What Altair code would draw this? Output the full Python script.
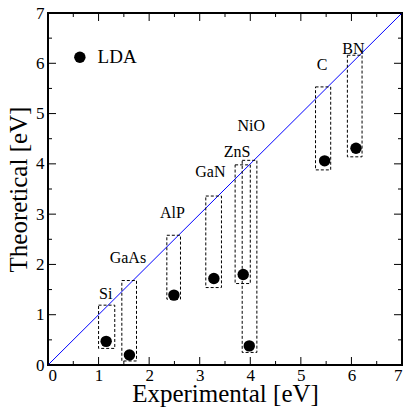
import altair as alt
import pandas as pd

materials = ["Si", "GaAs", "AlP", "GaN", "ZnS", "NiO", "C", "BN"]
exp_gap = [1.15, 1.61, 2.49, 3.28, 3.86, 3.98, 5.47, 6.09]
lda_gap = [0.47, 0.20, 1.39, 1.72, 1.80, 0.38, 4.06, 4.31]
box_x1 = [1.00, 1.46, 2.35, 3.12, 3.70, 3.84, 5.29, 5.92]
box_x2 = [1.32, 1.75, 2.62, 3.43, 4.00, 4.13, 5.59, 6.21]
box_y1 = [0.33, 0.08, 1.31, 1.54, 1.62, 0.25, 3.88, 4.14]
box_y2 = [1.19, 1.68, 2.58, 3.36, 3.98, 4.07, 5.53, 6.16]
label_x = [1.14, 1.58, 2.46, 3.21, 3.74, 4.02, 5.42, 6.04]
label_y = [1.41, 2.12, 3.02, 3.84, 4.24, 4.76, 5.96, 6.29]

major_ticks = [0, 1, 2, 3, 4, 5, 6, 7]
minor_ticks = [0.5, 1.5, 2.5, 3.5, 4.5, 5.5, 6.5]

legend_x = [0.63]
legend_y = [6.12]
legend_text = ["LDA"]
legend_text_x = [0.98]

W, H = 354, 352
FONT = "Liberation Serif"

xs = alt.Scale(domain=[0, 7], nice=False, zero=False)
ys = alt.Scale(domain=[0, 7], nice=False, zero=False)

df = pd.DataFrame({"m": materials, "ex": exp_gap, "lda": lda_gap,
                   "x1": box_x1, "x2": box_x2, "y1": box_y1, "y2": box_y2,
                   "lx": label_x, "ly": label_y})

diag = pd.DataFrame({"x": [0, 7], "y": [0, 7]})

line = alt.Chart(diag).mark_line(color="#0000ff", strokeWidth=1, clip=True).encode(
    x=alt.X("x:Q", scale=xs, axis=alt.Axis(
        title="Experimental [eV]", values=major_ticks, ticks=False, domain=False, grid=False,
        labelFont=FONT, labelFontSize=17, labelColor="black", labelPadding=2,
        titleFont=FONT, titleFontSize=25, titleFontWeight="normal", titleColor="black", titlePadding=-2,
        format="d")),
    y=alt.Y("y:Q", scale=ys, axis=alt.Axis(
        title="Theoretical [eV]", values=major_ticks, ticks=False, domain=False, grid=False,
        labelFont=FONT, labelFontSize=17, labelColor="black", labelPadding=4,
        titleFont=FONT, titleFontSize=25, titleFontWeight="normal", titleColor="black", titlePadding=4,
        format="d")),
)

boxes = alt.Chart(df).mark_rect(fill=None, stroke="black", strokeWidth=1, strokeDash=[3, 2]).encode(
    x=alt.X("x1:Q", scale=xs), x2="x2:Q", y=alt.Y("y1:Q", scale=ys), y2="y2:Q")

points = alt.Chart(df).mark_circle(color="black", opacity=1, size=130).encode(
    x=alt.X("ex:Q", scale=xs), y=alt.Y("lda:Q", scale=ys))

labels = alt.Chart(df).mark_text(font=FONT, fontSize=16, color="black", align="center", baseline="middle").encode(
    x=alt.X("lx:Q", scale=xs), y=alt.Y("ly:Q", scale=ys), text="m:N")

leg_df = pd.DataFrame({"x": legend_x, "y": legend_y, "t": legend_text, "tx": legend_text_x})
leg_pt = alt.Chart(leg_df).mark_circle(color="black", opacity=1, size=130).encode(
    x=alt.X("x:Q", scale=xs), y=alt.Y("y:Q", scale=ys))
leg_tx = alt.Chart(leg_df).mark_text(font=FONT, fontSize=19, color="black", align="left", baseline="middle").encode(
    x=alt.X("tx:Q", scale=xs), y=alt.Y("y:Q", scale=ys), text="t:N")


def tick_layers(vals, length):
    d = pd.DataFrame({"v": vals})
    base = alt.Chart(d).mark_rule(color="black", strokeWidth=1)
    return [
        base.encode(x=alt.X("v:Q", scale=xs), y=alt.value(H), y2=alt.value(H - length)),
        base.encode(x=alt.X("v:Q", scale=xs), y=alt.value(0), y2=alt.value(length)),
        base.encode(y=alt.Y("v:Q", scale=ys), x=alt.value(0), x2=alt.value(length)),
        base.encode(y=alt.Y("v:Q", scale=ys), x=alt.value(W), x2=alt.value(W - length)),
    ]


layers = [line, boxes, points, labels, leg_pt, leg_tx] + tick_layers(major_ticks, 8) + tick_layers(minor_ticks, 4)

chart = alt.layer(*layers).properties(
    width=W, height=H,
    autosize=alt.AutoSizeParams(type="none"),
    padding={"left": 48, "top": 13, "right": 4, "bottom": 46},
    background="white",
).configure_view(stroke="black", strokeWidth=2)

chart.save("out.html", embed_options={"renderer": "svg", "actions": False})
